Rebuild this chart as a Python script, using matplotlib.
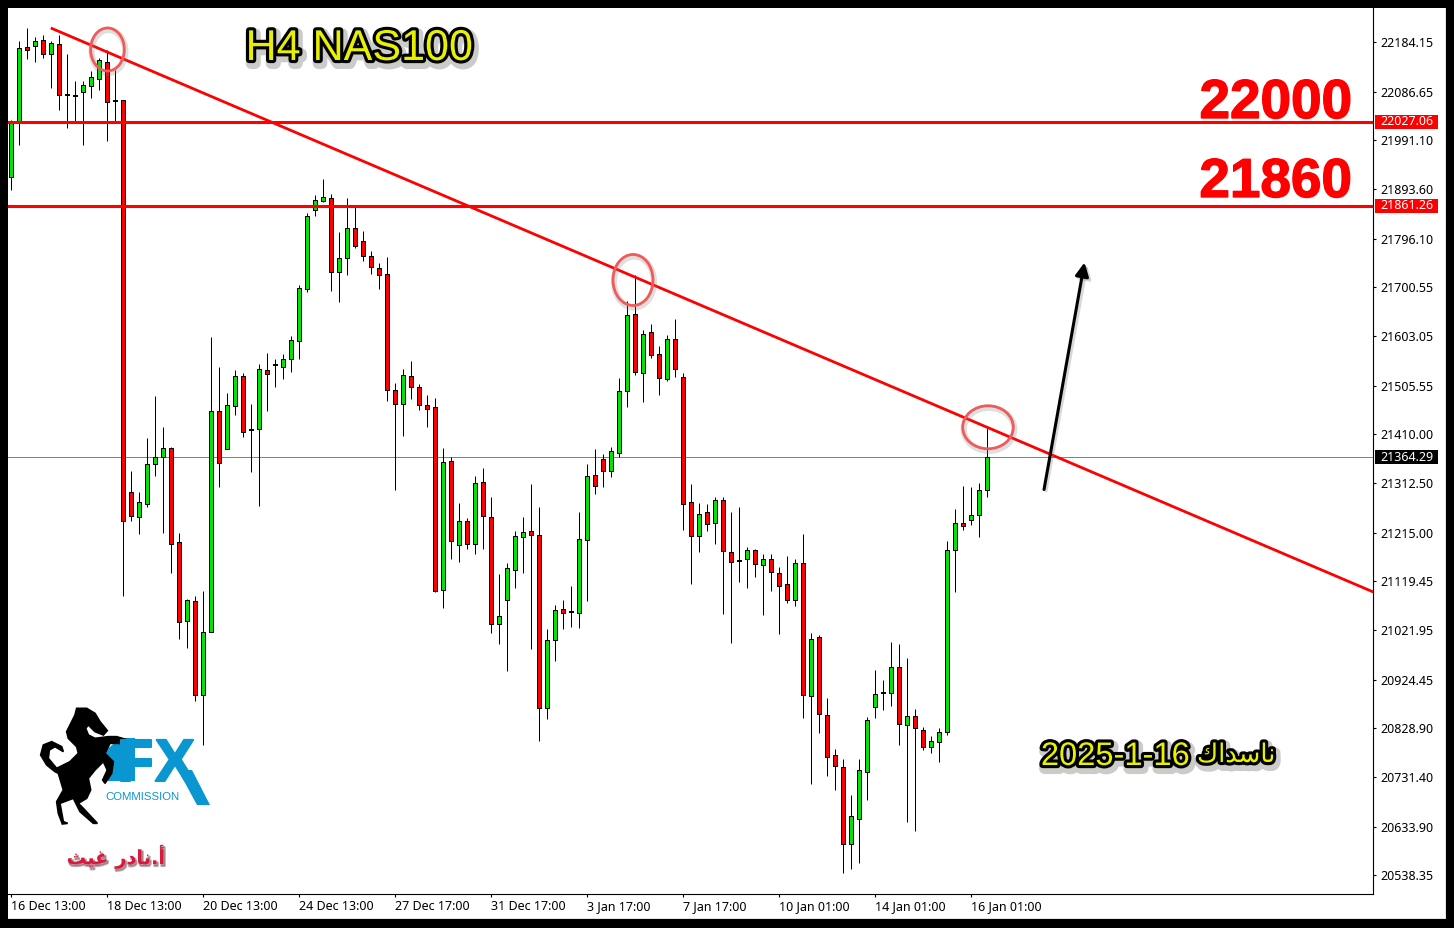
import matplotlib
matplotlib.use('agg')
import matplotlib.pyplot as plt
import matplotlib.patheffects as pe
from matplotlib.patches import Rectangle, Ellipse, Polygon, FancyArrowPatch

# H4 candles
opens = [21917,22027,22174,22177,22188,22160,22180,22079,22078,22085,22098,22112,22145,22068,22070,21295,21247,21272,21351,21365,
         21382,21196,21041,21080,20895,21018,21455,21381,21466,21524,21418,21419,21536,21546,21543,21559,21594,21697,21853,21871,
         21876,21731,21757,21817,21791,21761,21738,21726,21498,21469,21524,21502,21467,21463,21102,21356,21191,21238,21193,21315,
         21247,21035,21083,21142,21207,21218,21210,20869,21004,21064,21058,21057,21201,21329,21360,21336,21373,21496,21647,21531,
         21611,21568,21519,21597,21522,21275,21209,21255,21235,21279,21176,21159,21163,21180,21151,21164,21135,21113,21083,21155,
         20893,21008,20854,20775,20753,20600,20650,20743,20871,20898,20899,20949,20836,20852,20825,20792,20802,20822,21180,21234,
         21241,21251,21299]
highs = [22031,22187,22212,22194,22199,22186,22198,22161,22108,22108,22127,22154,22168,22129,22070,21337,21295,21402,21485,21424,
         21385,21215,21084,21090,21100,21602,21543,21491,21537,21531,21469,21548,21570,21558,21568,21603,21705,21846,21882,21914,
         21884,21809,21876,21863,21811,21772,21748,21760,21510,21538,21554,21508,21487,21481,21382,21364,21273,21245,21327,21343,
         21286,21133,21155,21218,21246,21311,21266,21025,21072,21082,21110,21256,21351,21381,21371,21384,21520,21673,21724,21616,
         21627,21584,21606,21637,21531,21311,21274,21272,21286,21286,21256,21266,21187,21183,21173,21173,21147,21169,21163,21212,
         21017,21012,20888,20788,20768,20697,20768,20851,20944,20924,20999,20995,20967,20867,20831,20813,20829,21199,21262,21307,
         21305,21313,21421]
lows = [21892,21981,22151,22145,22154,22094,22050,22015,22027,21981,22074,22090,21989,22027,21090,21238,21212,21266,21327,21215,
        21135,21005,20987,20883,20796,21018,21305,21381,21448,21404,21335,21268,21456,21503,21519,21533,21558,21691,21841,21869,
        21693,21670,21724,21778,21751,21727,21697,21475,21299,21406,21479,21457,21424,21097,21067,21163,21157,21183,21173,21183,
        21017,20995,20942,21106,21135,20985,20803,20847,20962,21025,21029,21027,21080,21292,21306,21326,21365,21463,21527,21473,
        21560,21487,21515,21523,21220,21114,21177,21218,21193,21054,20997,21118,21106,21128,21052,21100,21015,21076,21070,20849,
        20718,20819,20734,20707,20543,20551,20562,20687,20849,20865,20873,20796,20643,20626,20786,20780,20762,20815,21098,21220,
        21230,21207,21286]
closes = [22028,22172,22168,22186,22160,22182,22079,22079,22078,22099,22115,22149,22067,22068,21239,21249,21275,21350,21364,21382,
          21193,21039,21082,20895,21018,21455,21353,21467,21524,21415,21418,21538,21529,21546,21558,21595,21698,21840,21872,21878,
          21731,21757,21817,21781,21761,21740,21725,21498,21469,21526,21502,21467,21460,21100,21354,21199,21238,21193,21313,21249,
          21034,21050,21145,21208,21216,21211,20869,21004,21062,21057,21058,21202,21327,21308,21336,21376,21496,21645,21532,21607,
          21567,21520,21597,21539,21271,21209,21253,21233,21279,21178,21157,21159,21180,21153,21163,21138,21110,21083,21155,20895,
          21006,20857,20772,20755,20600,20655,20746,20844,20896,20898,20949,20838,20852,20830,20792,20803,20821,21180,21234,21229,
          21251,21299,21364.29]

price_ticks = [22184.15,22086.65,21991.10,21893.60,21796.10,21700.55,21603.05,21505.55,21410.00,
               21312.50,21215.00,21119.45,21021.95,20924.45,20828.90,20731.40,20633.90,20538.35]
date_labels = ['16 Dec 13:00','18 Dec 13:00','20 Dec 13:00','24 Dec 13:00','27 Dec 17:00','31 Dec 17:00',
               '3 Jan 17:00','7 Jan 17:00','10 Jan 01:00','14 Jan 01:00','16 Jan 01:00']
date_step = 12

levels = [22027.06, 21861.26]
last_price = 21364.29
trend_x = [4.93, 170.25]
trend_y = [22212.4, 21097.9]

GREEN = '#00e600'
RED = '#ff0000'
YELLOW = '#e6f000'
BLUE = '#0a96d0'
W, H = 1454, 928

# pixel to price scale of the chart window
P0, PPX = 22267.7, 1.976
X0, BARPX = 11.3, 8.0
L, R, T, B = 8, 1373, 8, 894

fig = plt.figure(figsize=((W + 0.02) / 100, (H + 0.02) / 100), dpi=100, facecolor='black')
fig.add_artist(Rectangle((8 / W, 1 - 919 / H), 1438 / W, 911 / H, transform=fig.transFigure, fc='#e4e4e4', ec='none', zorder=-2))
fig.add_artist(Rectangle((8 / W, 1 - 918 / H), 1437 / W, 910 / H, transform=fig.transFigure, fc='white', ec='none', zorder=-1))

ax = fig.add_axes([L / W, 1 - B / H, (R - L) / W, (B - T) / H], facecolor='white')
ax.set_xlim((L - X0) / BARPX, (R - X0) / BARPX)
ax.set_ylim(P0 - PPX * B, P0 - PPX * T)
for s in ['left', 'top']:
    ax.spines[s].set_visible(False)
for s in ['right', 'bottom']:
    ax.spines[s].set_linewidth(0.8)

# price line under the candles
ax.axhline(last_price, color='#78848f', lw=0.72, zorder=1)

xs = list(range(len(opens)))
ax.vlines(xs, lows, highs, color='black', lw=0.72, zorder=2)
for i in xs:
    o, c = opens[i], closes[i]
    if o == c:
        ax.hlines(o, i - 0.3, i + 0.3, color='black', lw=1.4, zorder=3)
    else:
        ax.bar(i, abs(c - o), bottom=min(o, c), width=0.5, color=GREEN if c > o else RED,
               edgecolor='black', lw=0.72, zorder=3)

for lv in levels:
    ax.axhline(lv, color=RED, lw=2.2, zorder=4)
ax.plot(trend_x, trend_y, color=RED, lw=2.0, zorder=4, solid_capstyle='butt')

ax.yaxis.tick_right()
ax.set_yticks(price_ticks)
ax.set_yticklabels(['%.2f' % p for p in price_ticks], fontsize=9, family='Noto Sans')
ax.tick_params(axis='y', length=2.5, width=0.8, pad=2.5)
ax.set_xticks([i * date_step for i in range(len(date_labels))])
ax.set_xticklabels(date_labels, fontsize=9, family='Noto Sans', ha='left')
ax.tick_params(axis='x', length=2.5, width=0.8, pad=1.8)

# coloured price tags on the axis
for p, col in [(levels[0], RED), (levels[1], RED), (last_price, 'black')]:
    ax.add_patch(Rectangle(((1375 - L) / (R - L), p - 7 * PPX), 63 / (R - L), 14 * PPX,
                           transform=ax.get_yaxis_transform(), fc=col, ec='none', clip_on=False, zorder=6))
    ax.text((1380 - L) / (R - L), p, '%.2f' % p, transform=ax.get_yaxis_transform(), color='white',
            fontsize=9, family='Noto Sans', va='center', ha='left', clip_on=False, zorder=7)

# everything pasted on top of the chart, in image pixels
top = fig.add_axes([0, 0, 1, 1], facecolor='none')
top.set_xlim(0, W)
top.set_ylim(H, 0)
top.axis('off')

for cx, cy, w, h in [(107.5, 49.5, 33.7, 43), (633, 280, 40, 51), (988, 427.3, 50.6, 43)]:
    top.add_patch(Ellipse((cx + 1, cy + 2), w, h, fc='none', ec='#808080', lw=4.5, alpha=0.25))
    top.add_patch(Ellipse((cx, cy), w, h, fc='none', ec='#f25a5a', lw=2))

# arrow
top.add_patch(FancyArrowPatch((1046, 491), (1087, 265), arrowstyle='-|>', mutation_scale=20, color='#808080', lw=2.2, alpha=0.3, shrinkA=0, shrinkB=0))
top.add_patch(FancyArrowPatch((1044, 489.5), (1084.5, 262.5), arrowstyle='-|>', mutation_scale=20, color='black', lw=2.2, shrinkA=0, shrinkB=0))

# big level labels
heavy = [pe.Stroke(linewidth=1, foreground=RED), pe.Normal()]
top.text(1352, 118, '22000', color=RED, fontsize=39.5, family='Liberation Sans', weight='bold', ha='right', va='baseline', path_effects=heavy)
top.text(1352, 197, '21860', color=RED, fontsize=39.5, family='Liberation Sans', weight='bold', ha='right', va='baseline', path_effects=heavy)

outline = [pe.Stroke(linewidth=8, foreground='#555555', alpha=0.3, offset=(1.5, -2.5)),
           pe.Stroke(linewidth=4.5, foreground='black'), pe.Normal()]
top.text(359, 60, 'H4 NAS100', color=YELLOW, fontsize=31, family='Liberation Sans', ha='center', va='baseline', path_effects=outline)

# Arabic set in presentation forms, left to right, since matplotlib does not shape it
top.text(1190, 765, '2025-1-16', color=YELLOW, fontsize=23.5, family='Liberation Sans',
         ha='right', va='baseline', path_effects=outline)
top.text(1197, 762, '\ufed9\ufe8d\ufeaa\ufeb3\ufe8e\ufee7', color=YELLOW, fontsize=18.5, family='DejaVu Sans',
         ha='left', va='baseline', path_effects=outline)
top.text(116, 864, '\ufe9a\ufef4\ufecf \ufead\ufea9\ufe8e\ufee7.\ufe83', color='#d8183c', fontsize=14, family='DejaVu Sans',
         weight='bold', ha='center', va='baseline',
         path_effects=[pe.Stroke(linewidth=1.5, foreground='#666666', alpha=0.5, offset=(1, -1.5)), pe.Normal()])

# logo
thick = [pe.Stroke(linewidth=1.5, foreground=BLUE), pe.Normal()]
top.add_patch(Polygon([(103, 753), (120, 738), (135, 738), (135, 781), (108, 781)], fc=BLUE, ec='none'))
top.text(117, 781, 'F', color=BLUE, fontsize=43, family='Liberation Sans', weight='bold', va='baseline', ha='left', path_effects=thick)
top.text(155, 781, 'X', color=BLUE, fontsize=43, family='Liberation Sans', weight='bold', va='baseline', ha='left', path_effects=thick)
top.add_patch(Polygon([(178, 770), (192, 770), (210, 805), (197, 805)], fc=BLUE, ec='none'))
top.text(105, 799.5, 'COMMISSION', color=BLUE, fontsize=8.2, family='Liberation Sans', va='baseline', ha='left')

horse = [(170,55),(200,55),(225,70),(240,95),(262,122),(250,135),(225,125),(205,105),(197,115),(205,135),(225,145),
         (265,140),(290,140),(330,152),(330,165),(295,160),(270,160),(255,190),(280,215),(275,250),(255,280),(248,270),
         (262,240),(250,215),(225,240),(205,265),(212,300),(200,325),(175,340),(190,355),(232,400),(220,400),(180,365),
         (160,325),(120,340),(130,395),(143,400),(127,402),(115,370),(110,335),(130,300),(115,250),(105,245),(80,225),
         (62,195),(70,165),(95,155),(125,170),(130,185),(105,170),(88,180),(85,205),(110,235),(150,215),(175,190),
         (170,170),(145,145),(140,125),(155,95),(165,75)]
top.add_patch(Polygon([(20 + a / 3, 690 + b / 3) for a, b in horse], fc='black', ec='black', lw=1.2))

fig.savefig('out.png', dpi=100, facecolor=fig.get_facecolor())
